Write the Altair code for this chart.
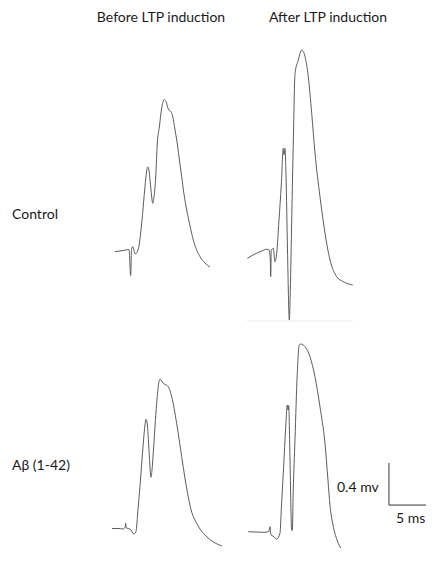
import altair as alt
import pandas as pd

# ---- data: time (ms) from trace start, voltage (mV) vs. baseline ----
ctrl_before_t = [0, 1.08, 1.89, 2.12, 2.23, 2.39, 2.74, 3.15, 3.61, 4.05, 4.26, 4.42, 4.59, 4.73,
                 4.96, 5.09, 5.27, 5.50, 5.72, 5.99, 6.31, 6.53, 6.66, 6.89, 7.20, 7.57, 7.80, 8.11,
                 8.34, 8.65, 9.01, 9.32, 9.69, 10.14, 10.58, 11.01, 11.49, 12.16, 12.84]
ctrl_before_v = [0, 0.011, 0.021, -0.227, 0.026, 0.048, -0.022, 0.026, 0.273, 0.619, 0.759, 0.807,
                 0.778, 0.683, 0.521, 0.461, 0.521, 0.711, 1.035, 1.188, 1.369, 1.435, 1.450, 1.430,
                 1.359, 1.333, 1.288, 1.159, 1.064, 0.902, 0.714, 0.550, 0.397, 0.245, 0.111, 0.021,
                 -0.048, -0.108, -0.146]

ctrl_after_t = [0, 0.64, 1.27, 1.95, 2.62, 2.97, 3.11, 3.16, 3.24, 3.51, 3.74, 3.97, 4.28, 4.59,
                4.86, 4.96, 5.09, 5.23, 5.43, 5.68, 5.81, 6.00, 6.22, 6.45, 6.89, 7.35, 7.80, 8.24,
                8.70, 9.15, 9.82, 10.50, 11.18, 12.08, 12.97, 14.24]
ctrl_after_v = [0, 0.027, 0.048, 0.070, 0.086, 0.079, -0.035, -0.175, 0.079, 0.095, -0.032, 0.048,
                0.365, 0.698, 1.048, 0.984, 1.046, 0.793, 0.079, -0.588, -0.302, 0.365, 1.127, 1.762,
                1.889, 1.984, 1.920, 1.730, 1.381, 1.000, 0.587, 0.238, -0.016, -0.175, -0.223, -0.254]

abeta_before_t = [0, 0.81, 1.53, 1.78, 1.85, 1.93, 2.43, 2.97, 3.24, 3.51, 3.78, 4.23, 4.46, 4.59,
                  4.77, 5.00, 5.27, 5.41, 5.58, 6.04, 6.35, 6.49, 6.93, 7.61, 8.07, 8.74, 9.42, 9.86,
                  10.31, 10.81, 11.22, 11.89, 12.57, 13.65, 14.86]
abeta_before_v = [0, 0, -0.005, 0.014, 0.050, 0.005, -0.005, -0.052, -0.030, 0.176, 0.398, 0.811,
                  0.986, 1.040, 0.995, 0.748, 0.488, 0.557, 0.719, 1.192, 1.398, 1.421, 1.383, 1.350,
                  1.255, 1.002, 0.684, 0.481, 0.300, 0.148, 0.081, -0.005, -0.062, -0.126, -0.167]

abeta_after_t = [0, 1.04, 2.26, 2.80, 2.93, 3.07, 3.34, 3.84, 4.28, 4.49, 4.73, 5.09, 5.27, 5.39,
                 5.46, 5.64, 5.86, 5.95, 6.08, 6.31, 6.62, 6.89, 7.08, 7.66, 8.34, 9.01, 9.69, 10.36,
                 10.77, 11.04, 11.45, 11.99, 12.66, 13.74]
abeta_after_v = [0, -0.003, -0.006, 0.007, 0.048, -0.031, -0.041, -0.070, -0.015, 0.254, 0.556,
                 1.035, 1.207, 1.159, 1.202, 0.683, 0.016, 0.010, 0.397, 0.873, 1.509, 1.778, 1.788,
                 1.762, 1.667, 1.476, 1.190, 0.845, 0.492, 0.254, 0.064, -0.079, -0.174, -0.250]

col_titles = ["Before LTP induction", "After LTP induction"]
row_labels = ["Control", "Aβ (1-42)"]
bar_mv = 0.4
bar_ms = 5
bar_labels = ["0.4 mv", "5 ms"]

# ---- layout (chart units: ms horizontally, mV vertically) ----
W, H = 418, 540
PX_MS, PX_MV = 7.4, 105.0
origins = {
    "ctrl_before": (14.46, 2.822),
    "ctrl_after": (32.34, 2.759),
    "abeta_before": (14.05, 0.186),
    "abeta_after": (32.47, 0.155),
}
series = {
    "ctrl_before": (ctrl_before_t, ctrl_before_v),
    "ctrl_after": (ctrl_after_t, ctrl_after_v),
    "abeta_before": (abeta_before_t, abeta_before_v),
    "abeta_after": (abeta_after_t, abeta_after_v),
}
rows = []
for name, (ts, vs) in series.items():
    ox, oy = origins[name]
    for i, (t, v) in enumerate(zip(ts, vs)):
        rows.append({"trace": name, "i": i, "x": ox + t, "y": oy + v})
df = pd.DataFrame(rows)

xs = alt.Scale(domain=[0, W / PX_MS], nice=False, zero=False)
ys = alt.Scale(domain=[0, H / PX_MV], nice=False, zero=False)

traces = alt.Chart(df).mark_line(color="#5c5c5c", strokeWidth=1.0, interpolate="monotone").encode(
    x=alt.X("x:Q", scale=xs, axis=None),
    y=alt.Y("y:Q", scale=ys, axis=None),
    detail="trace:N",
    order="i:Q",
)

# faint baseline line under the control/after trace
faint = alt.Chart(pd.DataFrame({"x": [32.26], "x2": [46.62], "y": [2.162]})).mark_rule(
    color="#eeeeee", strokeWidth=1
).encode(x=alt.X("x:Q", scale=xs, axis=None), x2="x2:Q", y=alt.Y("y:Q", scale=ys, axis=None))

# scale bar
bx, by = 51.48, 0.409
vbar = alt.Chart(pd.DataFrame({"x": [bx], "y": [by], "y2": [by + bar_mv]})).mark_rule(
    color="#333333", strokeWidth=1
).encode(x=alt.X("x:Q", scale=xs, axis=None), y=alt.Y("y:Q", scale=ys, axis=None), y2="y2:Q")
hbar = alt.Chart(pd.DataFrame({"x": [bx], "x2": [bx + bar_ms], "y": [by]})).mark_rule(
    color="#333333", strokeWidth=1
).encode(x=alt.X("x:Q", scale=xs, axis=None), x2="x2:Q", y=alt.Y("y:Q", scale=ys, axis=None))

FONT = "Lato"
def label(text, px, py, align="left", size=14):
    return alt.Chart(pd.DataFrame({"t": [text]})).mark_text(
        font=FONT, fontSize=size, color="#1a1a1a", align=align, baseline="alphabetic"
    ).encode(x=alt.value(px), y=alt.value(py), text="t:N")

texts = [
    label(col_titles[0], 153, 14, "center"),
    label(col_titles[1], 320, 14, "center"),
    label(row_labels[0], 4, 210.5),
    label(row_labels[1], 4, 462),
    label(bar_labels[0], 329, 483.7),
    label(bar_labels[1], 388, 515.3),
]

chart = alt.layer(faint, traces, vbar, hbar, *texts).properties(
    width=W, height=H, padding=0, background="white",
    autosize=alt.AutoSizeParams(type="none")
).configure_view(stroke=None)

chart.save("out.html", embed_options={"renderer": "svg", "actions": False})
